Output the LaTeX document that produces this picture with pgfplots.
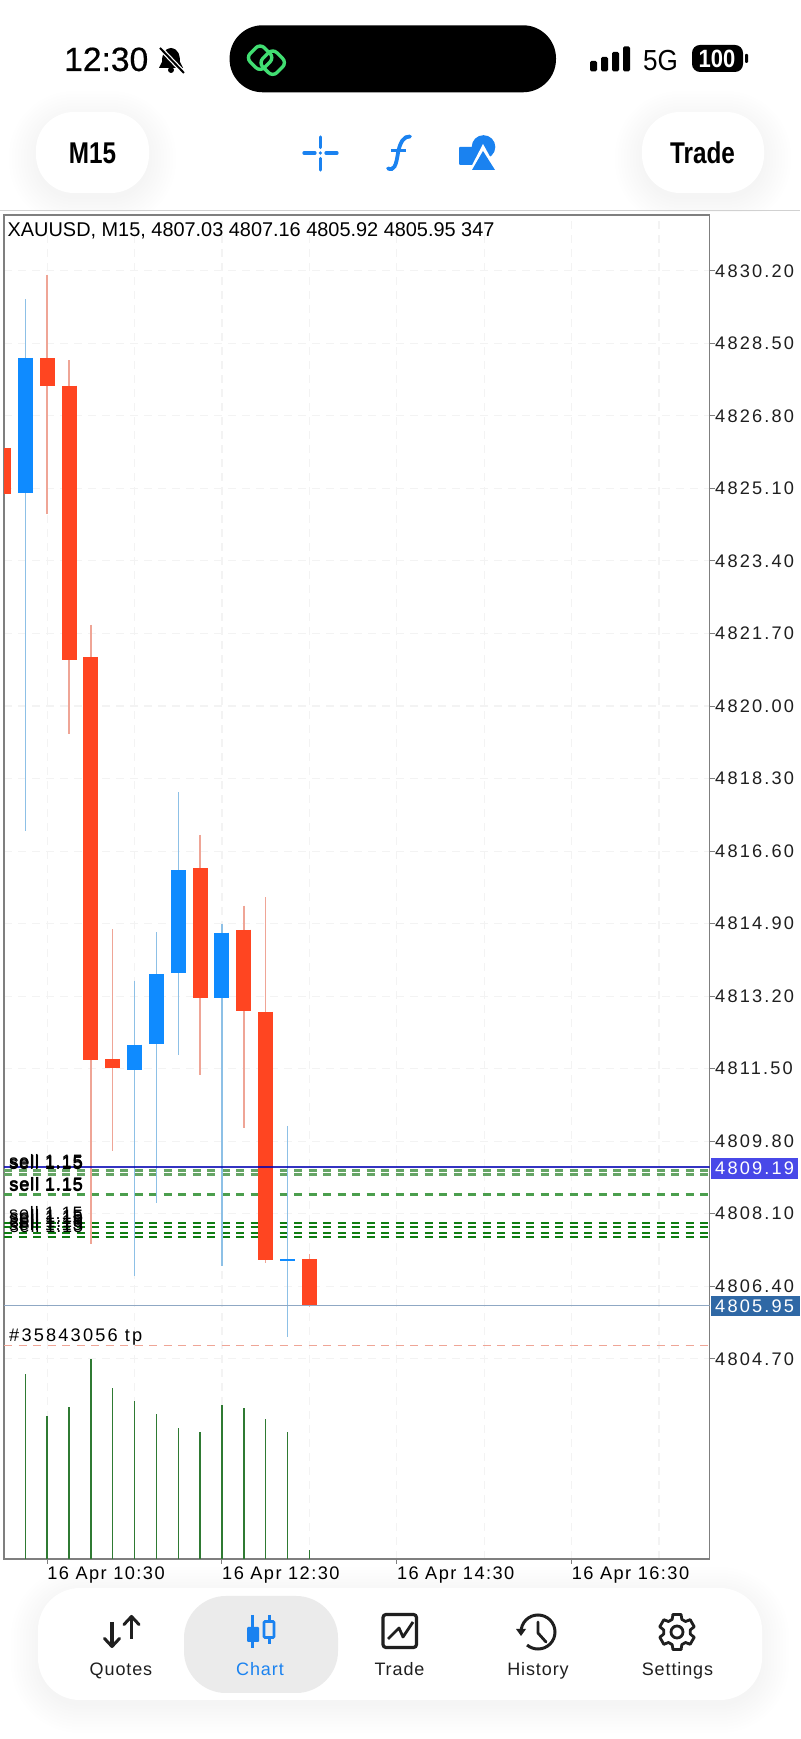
\documentclass[border=0pt]{standalone}
\usepackage{fontspec}
\usepackage{pgfplots}
\pgfplotsset{compat=1.18}
\setmainfont{Liberation Sans}
\newfontfamily\tkfont[LetterSpace=12]{Liberation Sans}
\newfontfamily\xtfont[LetterSpace=8]{Liberation Sans}
\newfontfamily\lsfont[LetterSpace=5]{Liberation Sans}
\newfontfamily\sellfont[LetterSpace=5]{Liberation Sans}
\newfontfamily\medfont[FakeBold=0.5]{Liberation Sans}
\definecolor{upbody}{HTML}{0F8BFF}
\definecolor{dnbody}{HTML}{FF4521}
\definecolor{upwick}{HTML}{8DC0E6}
\definecolor{dnwick}{HTML}{EFA596}
\definecolor{gridc}{HTML}{F3F3F3}
\definecolor{framec}{HTML}{7F7F7F}
\definecolor{lvl}{HTML}{0F7D12}
\definecolor{lvll}{HTML}{66A566}
\definecolor{volc}{HTML}{2F7A33}
\definecolor{bidc}{HTML}{8FA8C4}
\definecolor{uiblue}{HTML}{1A82F0}
\definecolor{uigreen}{HTML}{41DE72}
\newcommand{\softshadow}[5]{%
  \foreach \n in {0,3,...,27}{%
    \pgfmathsetmacro{\rr}{#5+\n}%
    \fill[black,opacity=0.005,rounded corners=\rr pt] (#1-\n,#2-\n+6) rectangle (#3+\n,#4+\n+6);}}
\begin{document}
\begin{tikzpicture}
\path[use as bounding box,fill=white] (0pt,0pt) rectangle (800pt,1739pt);
\begin{scope}[shift={(0pt,1739pt)},x=1pt,y=-1pt]
  \softshadow{36}{112}{149}{193}{38}
  \softshadow{642}{112}{764}{193}{38}
  \softshadow{38}{1588}{762}{1700}{42}
  \fill[white,rounded corners=38pt] (36,112) rectangle (149,193);
  \fill[white,rounded corners=38pt] (642,112) rectangle (764,193);
  \fill[white] (0,212) rectangle (800,1562);
  \draw[line width=1pt,color=black!18] (0,211) -- (800,211);
\end{scope}
\begin{axis}[
  at={(4pt,180pt)},anchor=south west,scale only axis,
  width=705.5pt,height=1344pt,
  xmin=0.025,xmax=32.31,ymin=4800.006,ymax=4831.51,
  axis line style={draw=framec,line width=1.4pt},
  xtick={2,10,18,26},
  xticklabels={16 Apr 10:30,16 Apr 12:30,16 Apr 14:30,16 Apr 16:30},
  minor xtick={6,14,22,30},
  ytick={4804.7,4806.4,4808.1,4809.8,4811.5,4813.2,4814.9,4816.6,4818.3,4820,4821.7,4823.4,4825.1,4826.8,4828.5,4830.2},
  yticklabels={4804.70,4806.40,4808.10,4809.80,4811.50,4813.20,4814.90,4816.60,4818.30,4820.00,4821.70,4823.40,4825.10,4826.80,4828.50,4830.20},
  xtick pos=bottom,ytick pos=right,yticklabel pos=right,
  tick align=outside,major tick length=5pt,minor tick length=0pt,
  tick style={draw=framec,line width=1pt},
  xmajorgrids,ymajorgrids,xminorgrids,
  major grid style={draw=gridc,line width=1.1pt,dash pattern=on 8pt off 6pt},
  minor grid style={draw=gridc,line width=1.1pt,dash pattern=on 8pt off 6pt},
  xticklabel style={anchor=north west,inner sep=0pt,xshift=0pt,yshift=-3pt,font=\xtfont\fontsize{18.2}{20}\selectfont},
  yticklabel style={anchor=west,inner sep=0pt,xshift=0.5pt,font=\tkfont\fontsize{18.2}{20}\selectfont,color=black!88},
  clip mode=individual,unbounded coords=jump,
  axis on top=false,
]
% pending order levels
\addplot[lvll,line width=2.2pt,dash pattern=on 8pt off 6.5pt] coordinates {(0.025,4809.11) (32.31,4809.11)};
\addplot[lvll,line width=2.2pt,dash pattern=on 8pt off 6.5pt] coordinates {(0.025,4809.02) (32.31,4809.02)};
\addplot[lvl!75!white,line width=3pt,dash pattern=on 8pt off 6.5pt] coordinates {(0.025,4808.56) (32.31,4808.56)};
\addplot[lvl,line width=2pt,dash pattern=on 8pt off 6.5pt] coordinates {(0.025,4807.87) (32.31,4807.87)};
\addplot[lvl,line width=2pt,dash pattern=on 8pt off 6.5pt] coordinates {(0.025,4807.79) (32.31,4807.79)};
\addplot[lvl,line width=2.2pt,dash pattern=on 8pt off 6.5pt] coordinates {(0.025,4807.65) (32.31,4807.65)};
\addplot[lvl,line width=2.2pt,dash pattern=on 8pt off 6.5pt] coordinates {(0.025,4807.56) (32.31,4807.56)};
% tp
\addplot[color=dnwick,line width=1.4pt,dash pattern=on 8pt off 6.5pt] coordinates {(0.025,4805.01) (32.31,4805.01)};
% wicks
\addplot[upwick,line width=1.5pt,no marks] table {
x y
1 4829.54
1 4817.06
nan nan
6 4813.56
6 4806.63
nan nan
7 4814.70
7 4808.35
nan nan
8 4817.98
8 4811.81
nan nan
10 4814.90
10 4806.87
nan nan
13 4810.16
13 4805.21
};
\addplot[dnwick,line width=1.5pt,no marks] table {
x y
2 4830.11
2 4824.50
nan nan
3 4828.11
3 4819.34
nan nan
4 4821.90
4 4807.40
nan nan
5 4814.77
5 4809.58
nan nan
9 4816.98
9 4811.36
nan nan
11 4815.32
11 4810.11
nan nan
12 4815.52
12 4806.94
nan nan
14 4807.16
14 4805.92
};
% bodies
\addplot[upbody,line width=15pt,no marks] table {
x y
1 4828.16
1 4824.99
nan nan
6 4812.06
6 4811.47
nan nan
7 4813.72
7 4812.08
nan nan
8 4816.15
8 4813.74
nan nan
10 4814.69
10 4813.16
};
\addplot[upbody,line width=1.5pt,no marks] coordinates {(12.66,4807.02) (13.34,4807.02)};
\addplot[dnbody,line width=15pt,no marks] table {
x y
0 4826.05
0 4824.97
nan nan
2 4828.15
2 4827.51
nan nan
3 4827.51
3 4821.07
nan nan
4 4821.15
4 4811.71
nan nan
5 4811.73
5 4811.51
nan nan
9 4816.20
9 4813.16
nan nan
11 4814.76
11 4812.86
nan nan
12 4812.83
12 4807.02
nan nan
14 4807.03
14 4805.95
};
% current bid and ask
\addplot[color=blue!70!black,opacity=0.8,line width=2pt] coordinates {(0.025,4809.19) (32.31,4809.19)};
\addplot[color=bidc,line width=1.4pt] coordinates {(0.025,4805.95) (32.31,4805.95)};
\end{axis}
\begin{axis}[
  at={(4pt,180pt)},anchor=south west,scale only axis,
  width=705.5pt,height=1344pt,
  xmin=0.025,xmax=32.31,ymin=0,ymax=51825,
  hide axis,
]
\addplot[ycomb,volc,line width=1.5pt,no marks] table {
x y
1 7133
2 5526
3 5873
4 7700
5 6582
6 6092
7 5591
8 5040
9 4897
10 5950
11 5811
12 5387
13 4885
14 347
};
\end{axis}
\begin{scope}[shift={(0pt,1739pt)},x=1pt,y=-1pt]
  % chart texts
  \node[anchor=base west,inner sep=0pt,font=\fontsize{19.9}{21}\selectfont] at (7.5,236.5) {XAUUSD, M15, 4807.03 4807.16 4805.92 4805.95 347};
  \foreach \bx/\by in {9/1168,9.6/1169,9/1170,9/1190.6,9.7/1191,9.2/1191.5,9/1220,9.6/1222.5,9/1225,9.6/1228,9/1230.5,9.6/1233}{
    \node[anchor=base west,inner sep=0pt,font=\sellfont\fontsize{18}{20}\selectfont] at (\bx,\by) {sell 1.15};}
  \node[anchor=base west,inner sep=0pt,font=\tkfont\fontsize{18.2}{20}\selectfont] at (9,1341.5) {\#35843056 tp};
  \fill[fill={rgb,255:red,72;green,72;blue,232}] (711,1158) rectangle (798,1178.7);
  \node[anchor=base west,inner sep=0pt,text=white,font=\tkfont\fontsize{18.2}{20}\selectfont] at (715,1174.7) {4809.19};
  \fill[fill={rgb,255:red,47;green,104;blue,165}] (711,1295.7) rectangle (800,1316);
  \node[anchor=base west,inner sep=0pt,text=white,font=\tkfont\fontsize{18.2}{20}\selectfont] at (715,1312.7) {4805.95};
  % status bar
  \node[anchor=base west,inner sep=0pt,font=\medfont\fontsize{33.6}{36}\selectfont] at (64,71) {12:30};
  \fill[black] (171,48) .. controls (163,49) and (162,56) .. (162,62) -- (159,68) -- (183,68) -- (180,62) .. controls (180,56) and (179,49) .. (171,48);
  \fill[black] (171,70) circle (3);
  \draw[white,line width=4.5pt] (161,49) -- (183,72);
  \draw[black,line width=2pt] (160,48) -- (184,73);
  \fill[black,rounded corners=33pt] (229.6,25.3) rectangle (556,92.3);
  \begin{scope}[rotate around={45:(258,57)}]
    \draw[uigreen,line width=3.4pt,rounded corners=6pt] (249,49) rectangle (269,69);
  \end{scope}
  \begin{scope}[rotate around={45:(272,62)}]
    \draw[uigreen,line width=3.4pt,rounded corners=6pt] (262,53) rectangle (282,73);
  \end{scope}
  \fill[black,rounded corners=1.5pt] (590,61) rectangle (597,71.5);
  \fill[black,rounded corners=1.5pt] (601,57) rectangle (608,71.5);
  \fill[black,rounded corners=1.5pt] (612,52) rectangle (619,71.5);
  \fill[black,rounded corners=1.5pt] (623,46.5) rectangle (630,71.5);
  \node[anchor=base west,inner sep=0pt,font=\fontsize{29}{30}\selectfont,xscale=.9] at (643,71) {5G};
  \fill[black,rounded corners=8pt] (692,45) rectangle (743,72);
  \fill[black,rounded corners=1pt] (745,54) rectangle (748,63);
  \node[anchor=center,inner sep=0pt,text=white,font=\bfseries\fontsize{25}{26}\selectfont,xscale=.88] at (717,58.5) {100};
  % toolbar
  \node[inner sep=0pt,font=\bfseries\fontsize{30}{32}\selectfont,xscale=.81] at (92.5,153) {M15};
  \node[inner sep=0pt,font=\bfseries\fontsize{30}{32}\selectfont,xscale=.81] at (702.5,153) {Trade};
  \draw[uiblue,line width=3.3pt,line cap=round] (304,153) -- (315,153) (326,153) -- (337,153) (320.4,137) -- (320.4,147.5) (320.4,158.5) -- (320.4,170);
  \fill[uiblue] (320.4,153) circle (1.8);
  \draw[uiblue,line width=3.8pt,line cap=round] (388,168.5) .. controls (394,171) and (396,166) .. (398,153) .. controls (400,142) and (404,136) .. (410,136.5);
  \draw[uiblue,line width=3.2pt] (391,150.5) -- (406,150.5);
  \fill[uiblue,rounded corners=1pt] (459,147) rectangle (481,165);
  \fill[uiblue] (483.5,147) circle (11.8);
  \fill[white] (483,144) -- (468,173) -- (499,173) -- cycle;
  \fill[uiblue] (483,151) -- (472,170) -- (495,170) -- cycle;
  % bottom navigation
  \fill[white,rounded corners=42pt] (38,1588) rectangle (762,1700);
  \fill[black!8,rounded corners=42pt] (184,1596) rectangle (338,1693);
  \foreach \tx/\lb in {121/Quotes,399.5/Trade,538/History,677.5/Settings}{
    \node[inner sep=0pt,anchor=base,font=\lsfont\fontsize{18}{20}\selectfont,text=black!88] at (\tx,1676) {\lb};}
  \node[inner sep=0pt,anchor=base,font=\lsfont\fontsize{18}{20}\selectfont,text=uiblue] at (260,1676) {Chart};
  % quotes icon
  \draw[black!88,line width=3.2pt] (112,1622) -- (112,1645) (131.5,1618) -- (131.5,1639);
  \draw[black!88,line width=3pt,line cap=round,line join=round] (104.5,1638.5) -- (112,1646.5) -- (119.5,1638.5);
  \draw[black!88,line width=3pt,line cap=round,line join=round] (124,1624.5) -- (131.5,1616.5) -- (139,1624.5);
  % chart icon
  \draw[uiblue,line width=3pt] (252.5,1615) -- (252.5,1648);
  \fill[uiblue,rounded corners=1pt] (247,1627) rectangle (259,1642);
  \draw[uiblue,line width=3pt] (269,1615) -- (269,1621) (269,1638) -- (269,1644);
  \draw[uiblue,line width=2.6pt,rounded corners=1pt] (264,1621.5) rectangle (274,1637.5);
  % trade icon
  \draw[black!88,line width=3.2pt,rounded corners=3pt] (383,1614.5) rectangle (416.5,1647.5);
  \draw[black!88,line width=2.8pt,line join=round] (388,1639) -- (399,1628) -- (403,1637) -- (413,1622);
  % history icon
  \draw[black!88,line width=3pt] (521,1632) arc[start angle=180,end angle=490,radius=17];
  \fill[black!88] (516,1629) -- (526,1629) -- (521,1636) -- cycle;
  \draw[black!88,line width=2.8pt,line cap=round,line join=round] (538,1622) -- (538,1633) -- (546,1642);
  % settings icon
  \draw[black!88,line width=2.8pt] (677,1632) circle (6);
  \foreach \a in {30,90,150,210,270,330}{
    \draw[black!88,line width=2.8pt,line join=round,line cap=round,shift={(677,1632)}] (\a-13:18) -- (\a+13:18) -- (\a+21:13.5) -- (\a+39:13.5) -- (\a+47:18);}
\end{scope}
\end{tikzpicture}
\end{document}
